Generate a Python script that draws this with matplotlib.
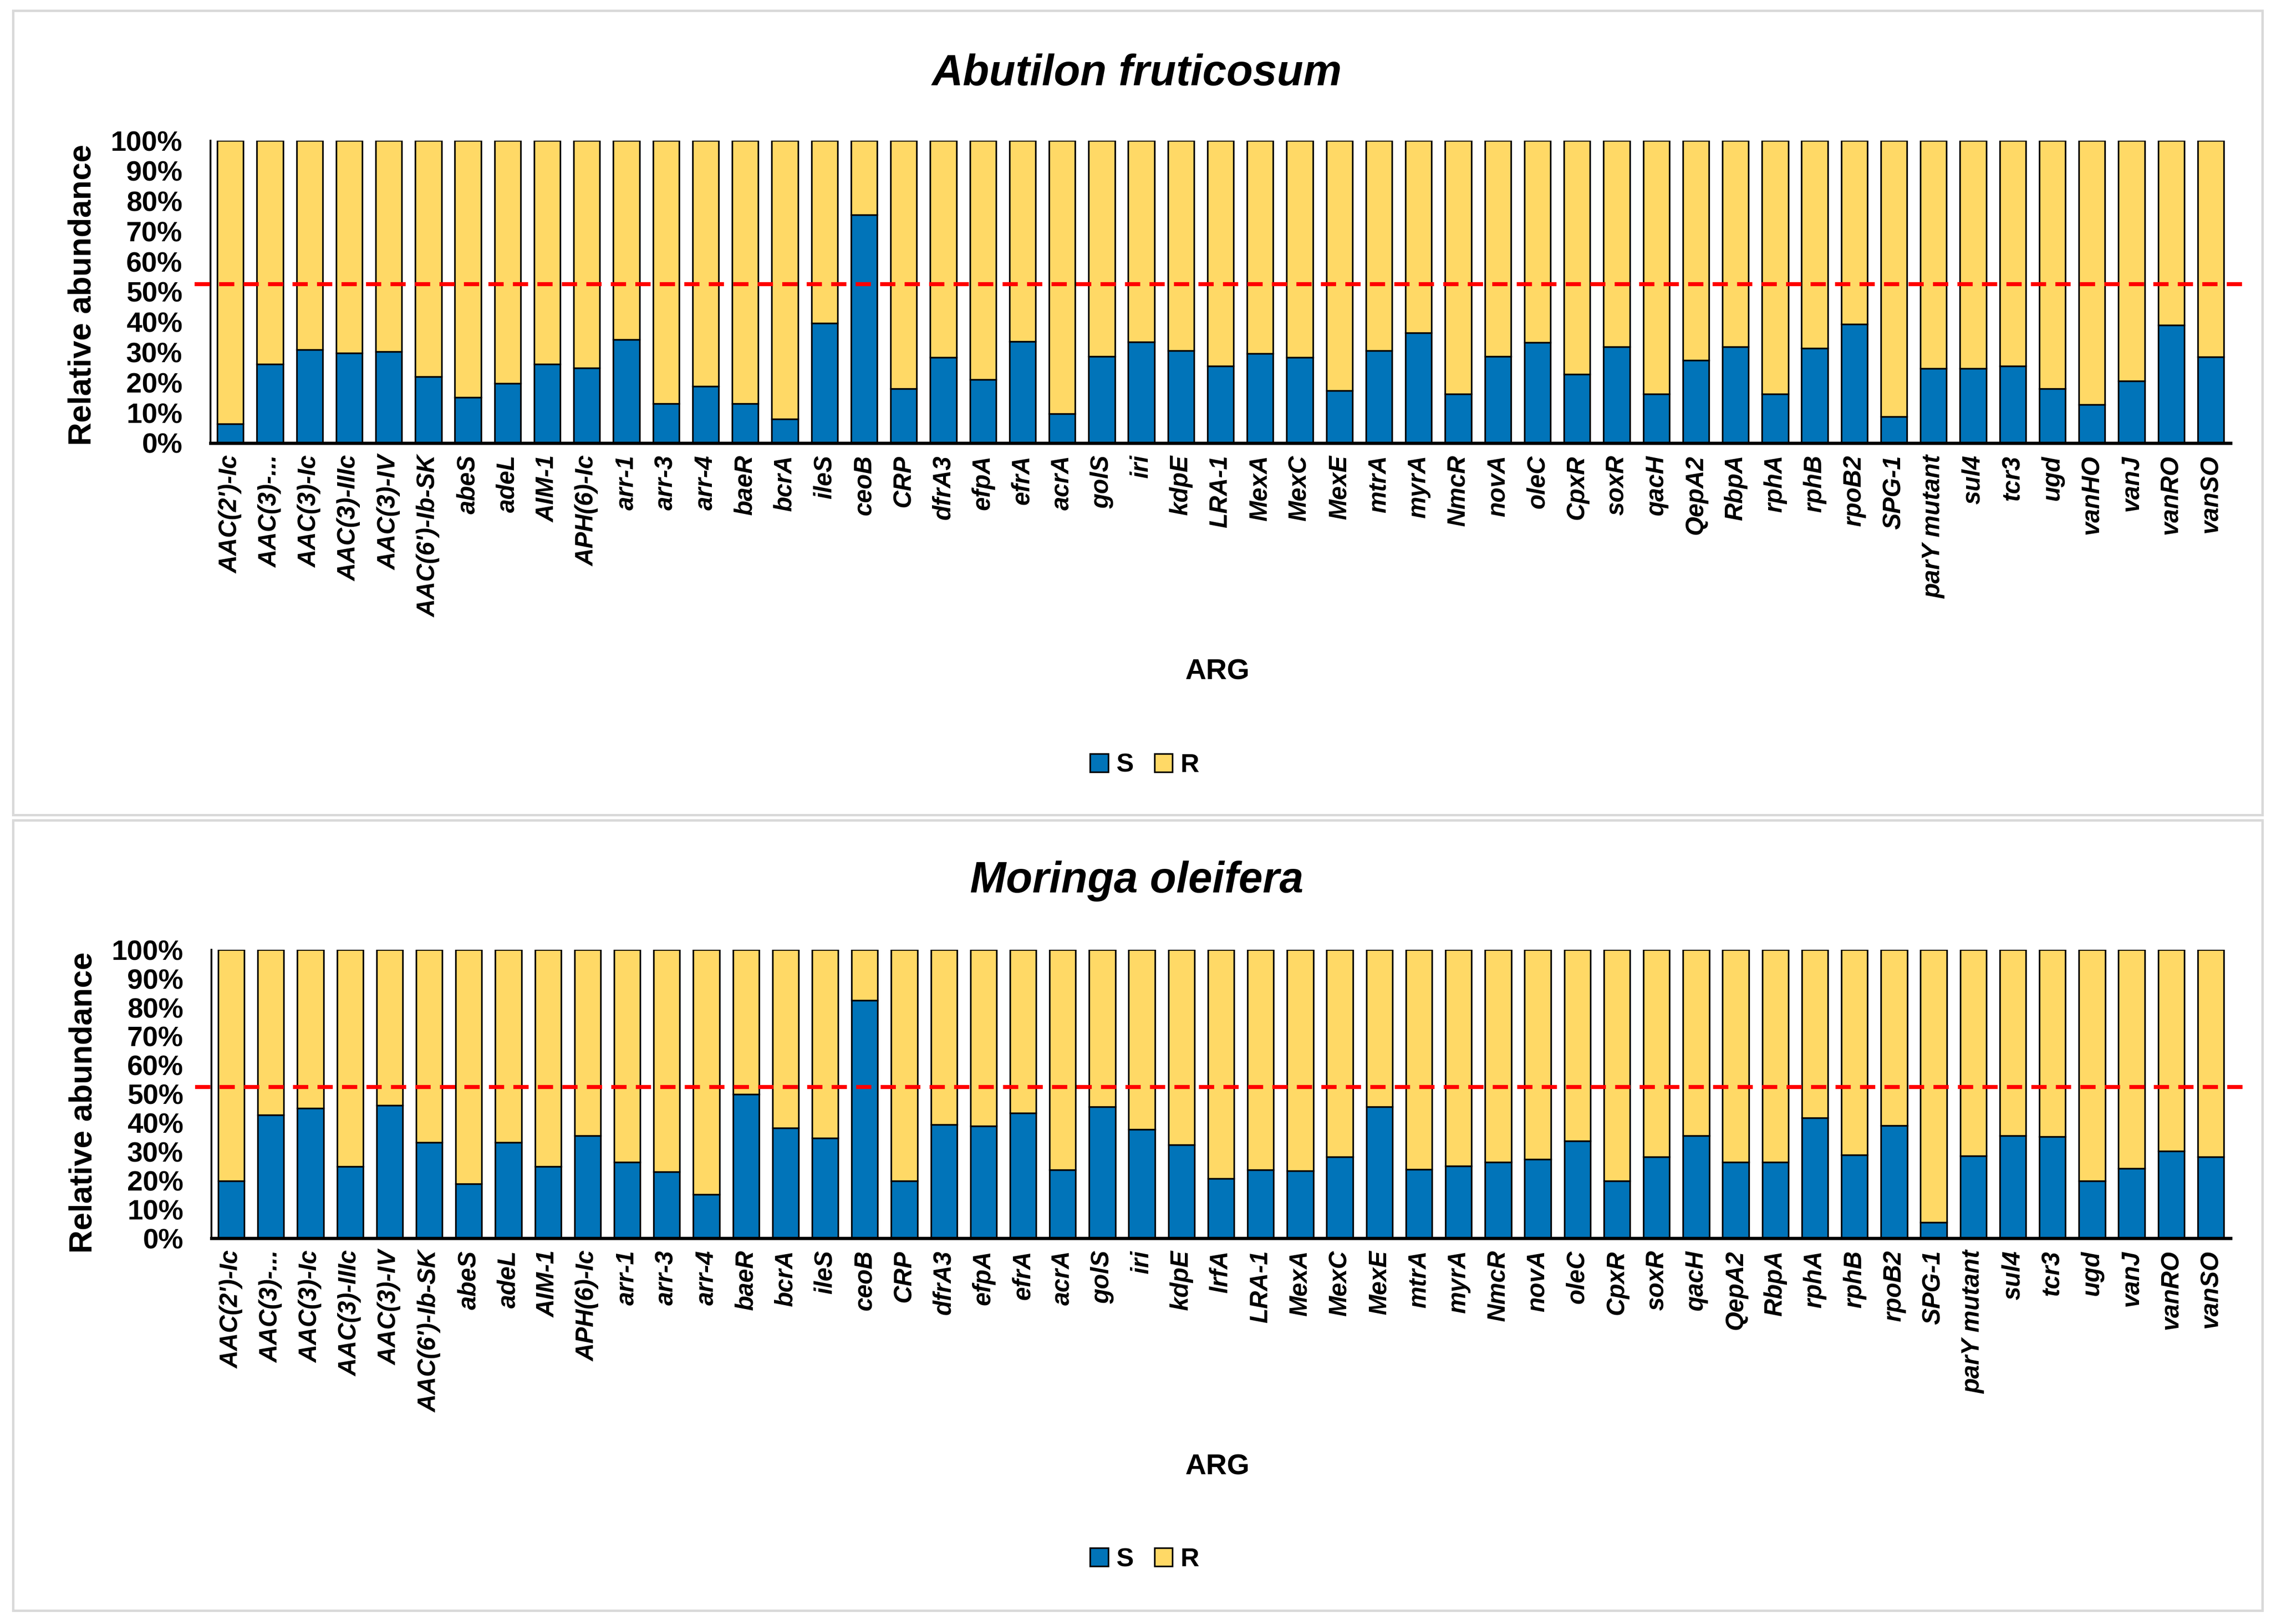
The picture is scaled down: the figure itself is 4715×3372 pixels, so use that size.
import numpy as np
import matplotlib
matplotlib.use('Agg')
import matplotlib.pyplot as plt
from matplotlib.patches import Rectangle, Patch

plt.rcParams['font.family'] = ['Liberation Sans', 'DejaVu Sans']

# gene names for each panel
genes_top = ["AAC(2')-Ic", "AAC(3)-...", "AAC(3)-Ic", "AAC(3)-IIIc", "AAC(3)-IV", "AAC(6')-Ib-SK",
             "abeS", "adeL", "AIM-1", "APH(6)-Ic", "arr-1", "arr-3", "arr-4", "baeR", "bcrA", "ileS",
             "ceoB", "CRP", "dfrA3", "efpA", "efrA", "acrA", "golS", "iri", "kdpE", "LRA-1", "MexA",
             "MexC", "MexE", "mtrA", "myrA", "NmcR", "novA", "oleC", "CpxR", "soxR", "qacH", "QepA2",
             "RbpA", "rphA", "rphB", "rpoB2", "SPG-1", "parY mutant", "sul4", "tcr3", "ugd", "vanHO",
             "vanJ", "vanRO", "vanSO"]
genes_bot = ["AAC(2')-Ic", "AAC(3)-...", "AAC(3)-Ic", "AAC(3)-IIIc", "AAC(3)-IV", "AAC(6')-Ib-SK",
             "abeS", "adeL", "AIM-1", "APH(6)-Ic", "arr-1", "arr-3", "arr-4", "baeR", "bcrA", "ileS",
             "ceoB", "CRP", "dfrA3", "efpA", "efrA", "acrA", "golS", "iri", "kdpE", "lrfA", "LRA-1",
             "MexA", "MexC", "MexE", "mtrA", "myrA", "NmcR", "novA", "oleC", "CpxR", "soxR", "qacH",
             "QepA2", "RbpA", "rphA", "rphB", "rpoB2", "SPG-1", "parY mutant", "sul4", "tcr3", "ugd",
             "vanJ", "vanRO", "vanSO"]

# percent S / R (Abutilon fruticosum)
s_top = [6.3, 26.1, 30.8, 29.8, 30.3, 22.0, 15.1, 19.8, 26.1, 24.8, 34.3, 13.0, 18.8, 13.0, 8.0, 39.7,
         75.5, 17.9, 28.3, 21.0, 33.6, 9.7, 28.6, 33.5, 30.5, 25.5, 29.6, 28.3, 17.3, 30.5, 36.5, 16.3,
         28.7, 33.3, 22.7, 31.8, 16.3, 27.4, 31.8, 16.3, 31.3, 39.4, 8.7, 24.7, 24.7, 25.5, 17.9, 12.8,
         20.6, 39.0, 28.5]
r_top = [93.7, 73.9, 69.2, 70.2, 69.7, 78.0, 84.9, 80.2, 73.9, 75.2, 65.7, 87.0, 81.2, 87.0, 92.0, 60.3,
         24.5, 82.1, 71.7, 79.0, 66.4, 90.3, 71.4, 66.5, 69.5, 74.5, 70.4, 71.7, 82.7, 69.5, 63.5, 83.7,
         71.3, 66.7, 77.3, 68.2, 83.7, 72.6, 68.2, 83.7, 68.7, 60.6, 91.3, 75.3, 75.3, 74.5, 82.1, 87.2,
         79.4, 61.0, 71.5]

# percent S / R (Moringa oleifera)
s_bot = [19.9, 42.8, 45.1, 24.9, 46.1, 33.3, 18.9, 33.3, 24.9, 35.6, 26.4, 23.0, 15.3, 50.0, 38.3, 34.8,
         82.5, 19.9, 39.5, 38.9, 43.5, 23.8, 45.6, 37.8, 32.5, 20.7, 23.7, 23.4, 28.3, 45.6, 23.9, 25.1,
         26.4, 27.4, 33.8, 19.9, 28.2, 35.6, 26.4, 26.4, 41.8, 28.9, 39.1, 5.6, 28.6, 35.6, 35.2, 19.9,
         24.2, 30.3, 28.2]
r_bot = [80.1, 57.2, 54.9, 75.1, 53.9, 66.7, 81.1, 66.7, 75.1, 64.4, 73.6, 77.0, 84.7, 50.0, 61.7, 65.2,
         17.5, 80.1, 60.5, 61.1, 56.5, 76.2, 54.4, 62.2, 67.5, 79.3, 76.3, 76.6, 71.7, 54.4, 76.1, 74.9,
         73.6, 72.6, 66.2, 80.1, 71.8, 64.4, 73.6, 73.6, 58.2, 71.1, 60.9, 94.4, 71.4, 64.4, 64.8, 80.1,
         75.8, 69.7, 71.8]

cutoff = 52.5  # red dashed reference line

blue = '#0174B9'
gold = '#FFD966'

fig = plt.figure(figsize=(4715/300, 3372/300), dpi=300)

# light grey frames round each panel
fig.patches.append(Rectangle((0.0057, 0.4982), 0.9905, 0.4953, transform=fig.transFigure,
                             fill=False, edgecolor='#D9D9D9', lw=1.2))
fig.patches.append(Rectangle((0.0057, 0.0083), 0.9905, 0.4867, transform=fig.transFigure,
                             fill=False, edgecolor='#D9D9D9', lw=1.2))

panels = [
    # title, genes, s, r, axes rect, title y, ARG y, legend y, ylabel y
    ('Abutilon fruticosum', genes_top, s_top, r_top, [0.0927, 0.7272, 0.8895, 0.1862], 0.9475, 0.5863, 0.5288, 0.49),
    ('Moringa oleifera', genes_bot, s_bot, r_bot, [0.0931, 0.2375, 0.8891, 0.1776], 0.4505, 0.0966, 0.0397, 0.47),
]

for title, genes, s, r, rect, ty, argy, legy, yly in panels:
    ax = fig.add_axes(rect)
    x = np.arange(len(genes))
    ax.bar(x, s, width=0.66, color=blue, edgecolor='black', linewidth=0.8, label='S', zorder=2)
    ax.bar(x, r, width=0.66, bottom=s, color=gold, edgecolor='black', linewidth=0.8, label='R', zorder=2)
    ax.plot([-0.008, 1.008], [cutoff, cutoff], color='red', lw=2.0, dashes=(3.8, 2.3),
            transform=ax.get_yaxis_transform(), clip_on=False, zorder=3)

    ax.set_xlim(-0.5, len(genes) - 0.5)
    ax.set_ylim(0, 100)
    ax.set_yticks(np.arange(0, 101, 10))
    ax.set_yticklabels(['%d%%' % v for v in range(0, 101, 10)], fontsize=14, fontweight='bold')
    ax.set_xticks(x)
    ax.set_xticklabels(genes, rotation=90, fontsize=12.3, fontweight='bold', fontstyle='italic')
    ax.tick_params(axis='both', length=0)
    ax.tick_params(axis='y', pad=14)
    ax.tick_params(axis='x', pad=6)
    for sp in ['top', 'right']:
        ax.spines[sp].set_visible(False)
    ax.spines['left'].set_linewidth(0.9)
    ax.spines['bottom'].set_linewidth(1.6)

    ax.set_ylabel('Relative abundance', fontsize=16, fontweight='bold')
    ax.yaxis.label.set_va('center')
    ax.yaxis.set_label_coords(-0.0634, yly)

    fig.text(0.5006, ty, title, ha='center', va='baseline', fontsize=21.5,
             fontweight='bold', fontstyle='italic')
    fig.text(0.536, argy, 'ARG', ha='center', va='center', fontsize=14.5, fontweight='bold')

    handles = [Patch(facecolor=blue, edgecolor='black', lw=0.8),
               Patch(facecolor=gold, edgecolor='black', lw=0.8)]
    fig.legend(handles, ['S', 'R'], loc='center', bbox_to_anchor=(0.504, legy), ncol=2,
               frameon=False, handlelength=0.7, handleheight=0.7,
               handletextpad=0.3, columnspacing=0.8, prop={'weight': 'bold', 'size': 13})

fig.savefig('out.png', dpi=300)
